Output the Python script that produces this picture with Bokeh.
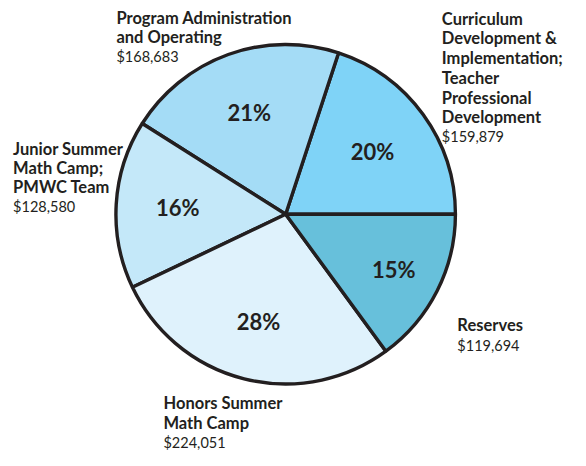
import numpy as np
from bokeh.plotting import figure
from bokeh.models import ColumnDataSource, Range1d
from bokeh.core.properties import value
from bokeh.embed import file_html
from bokeh.resources import INLINE

# ---- data ----
categories = [
    "Curriculum Development & Implementation; Teacher Professional Development",
    "Program Administration and Operating",
    "Junior Summer Math Camp; PMWC Team",
    "Honors Summer Math Camp",
    "Reserves",
]
label_lines = [
    ["Curriculum", "Development &", "Implementation;", "Teacher", "Professional", "Development"],
    ["Program Administration", "and Operating"],
    ["Junior Summer", "Math Camp;", "PMWC Team"],
    ["Honors Summer", "Math Camp"],
    ["Reserves"],
]
amounts = [159879, 168683, 128580, 224051, 119694]
pct_labels = ["20%", "21%", "16%", "28%", "15%"]
colors = ["#7fd3f7", "#a4dcf6", "#c4e8f9", "#dff2fc", "#67c0db"]

# ---- layout ----
W, H = 570, 450
S = 0.97                               # layout scale
SHIFT = 5                              # move everything up (px)
CX, CY, R = 294, 225.5, 175            # pie centre / radius (layout px, y down)
pct_r = [110.5, 111, 111.5, 114.5, 125]  # radius of % labels per slice (layout px)
# (left x, first baseline y, line spacing) per category label, layout px
anchors = [(455, 24, 20.3), (119.5, 22.7, 20.0), (13, 158.5, 19.6), (168, 420, 20.3), (471, 339.5, 21.5)]

TXT = "#231f20"
FONT = "Lato"


def X(x):
    return S * x


def Y(y):
    return H - S * y + SHIFT


vals = np.array(amounts, dtype=float)
frac = vals / vals.sum()
ends = np.cumsum(frac) * 2 * np.pi
starts = np.concatenate([[0.0], ends[:-1]])
mids = (starts + ends) / 2

p = figure(width=W, height=H, x_range=Range1d(0, W), y_range=Range1d(0, H),
           x_axis_location=None, y_axis_location=None, toolbar_location=None,
           output_backend="svg", min_border=0)
p.grid.visible = False
p.outline_line_color = None
p.background_fill_color = "white"

src = ColumnDataSource(dict(start=starts, end=ends, color=colors, cat=categories))
p.wedge(x=X(CX), y=Y(CY), radius=S * R, radius_units="screen", start_angle="start", end_angle="end",
        fill_color="color", line_color=TXT, line_width=3.4, source=src)

# percentage labels
pr = np.array(pct_r)
p.text(x=list(X(CX) + S * pr * np.cos(mids)), y=list(Y(CY) + S * pr * np.sin(mids)), text=pct_labels,
       text_font=value(FONT), text_font_style="bold", text_font_size="22px",
       text_color=TXT, text_align="center", text_baseline="middle")

# category labels
nx, ny, nt, vx, vy, vt = [], [], [], [], [], []
for i, lines in enumerate(label_lines):
    ax, ay, lh = anchors[i]
    for j, ln in enumerate(lines):
        nx.append(X(ax)); ny.append(Y(ay + j * lh)); nt.append(ln)
    vx.append(X(ax)); vy.append(Y(ay + len(lines) * lh)); vt.append("${:,}".format(amounts[i]))

p.text(x=nx, y=ny, text=nt, text_font=value(FONT), text_font_style="bold",
       text_font_size="16.5px", text_color=TXT, text_align="left", text_baseline="alphabetic")
p.text(x=vx, y=vy, text=vt, text_font=value(FONT), text_font_size="14.5px",
       text_color=TXT, text_align="left", text_baseline="alphabetic")

open("out.html", "w").write(file_html(p, INLINE))
